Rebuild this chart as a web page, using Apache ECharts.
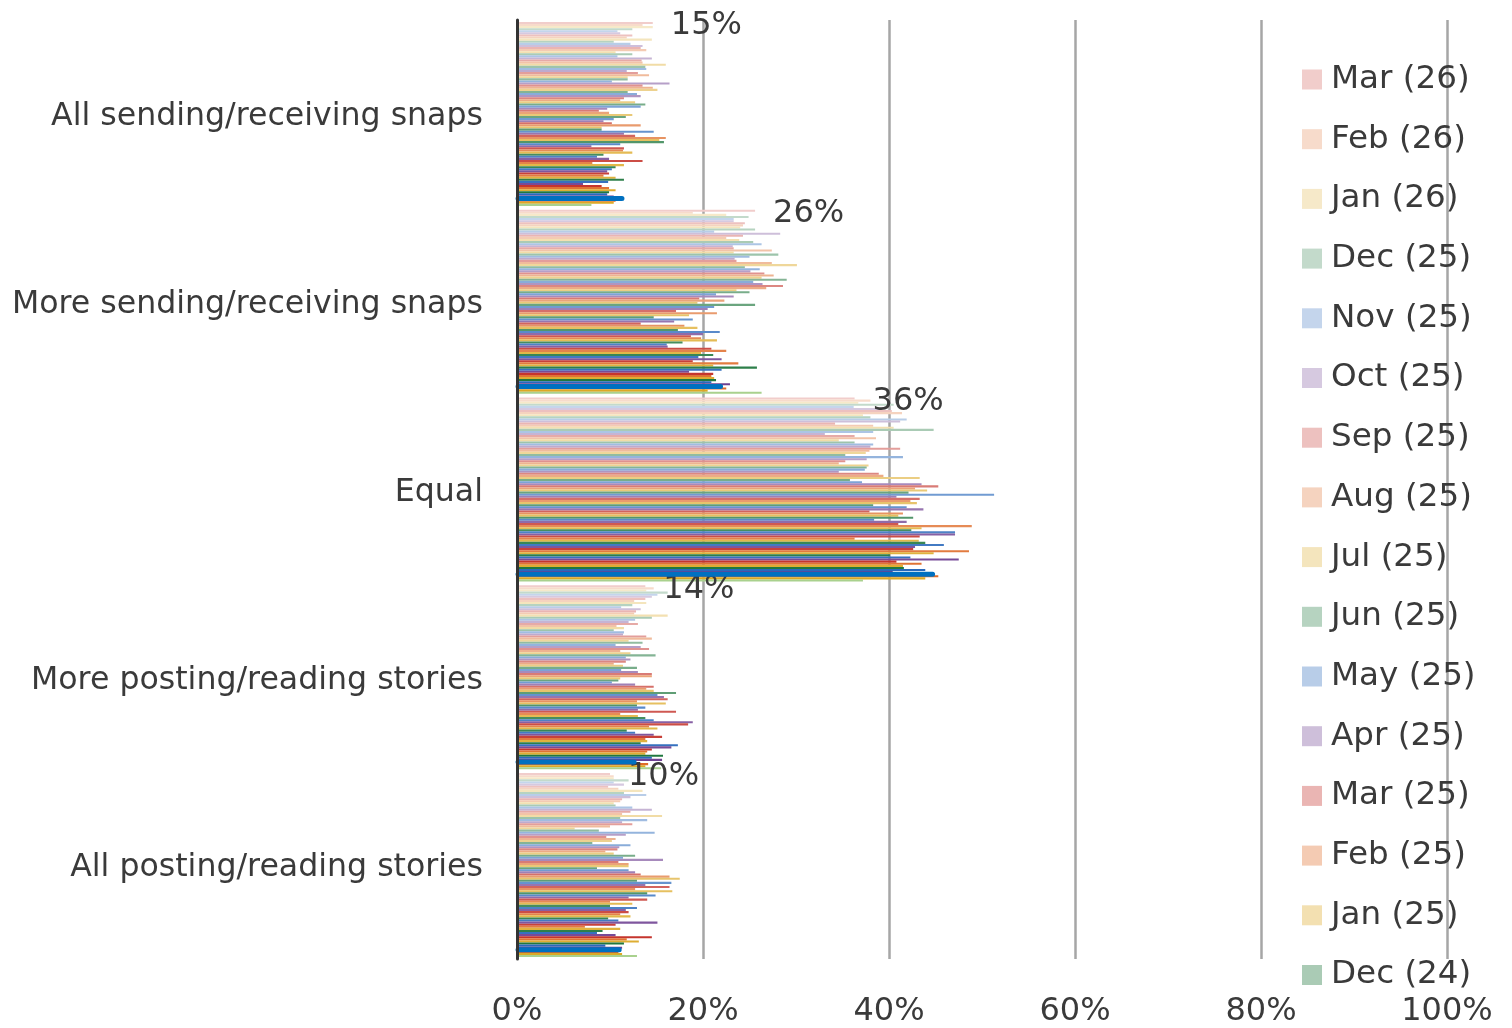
<!DOCTYPE html>
<html>
<head>
<meta charset="utf-8">
<style>
html,body{margin:0;padding:0;background:#fff}
#main{width:1512px;height:1028px}
</style>
<script src="https://cdn.jsdelivr.net/npm/echarts@6.0.0/dist/echarts.min.js"></script>
</head>
<body>
<div id="main"></div>
<script>
var categories = ['All sending/receiving snaps', 'More sending/receiving snaps', 'Equal', 'More posting/reading stories', 'All posting/reading stories'];

// one value per month, newest (Mar 26) first, oldest (Dec 18) last
var allSending = [14.6, 13.5, 14.6, 12.4, 10.8, 11.1, 12.4, 11.8, 14.5, 10.4, 12.2, 13.5, 13.3, 13.9, 10.6, 12.4, 10.8, 14.5, 13.4, 13.5, 16.0, 13.8, 13.9, 11.8, 13.0, 14.2, 11.9, 11.9, 10.2, 16.4, 13.5, 14.6, 15.1, 11.9, 12.9, 13.3, 11.5, 11.1, 12.7, 13.8, 13.3, 9.7, 8.8, 9.9,
  12.4, 11.7, 10.4, 9.3, 10.2, 13.3, 9.1, 9.1, 14.7, 11.5, 12.7, 16.0, 15.3, 15.8, 11.1, 8.0, 11.5, 11.4, 12.4, 9.3, 8.6, 9.9, 13.5, 8.1, 11.5, 10.6, 10.2, 9.7, 9.9, 9.3, 10.6, 11.5, 9.8, 7.1, 9.1, 9.9, 10.6, 9.9, 9.7, 10.4, 11.4, 10.6, 10.4, 8.0];
var moreSending = [25.6, 18.9, 22.5, 24.9, 23.3, 23.3, 24.5, 24.3, 24.0, 25.6, 21.2, 28.3, 24.3, 22.5, 23.9, 25.4, 26.3, 23.2, 23.3, 27.4, 23.3, 28.1, 25.0, 23.4, 23.6, 27.4, 30.1, 24.5, 26.1, 25.1, 26.6, 27.6, 26.3, 29.0, 25.4, 26.4, 28.6, 26.8, 23.6,
  25.0, 21.4, 23.3, 19.6, 22.3, 19.4, 25.6, 21.2, 20.5, 17.1, 21.5, 18.5, 14.7, 18.9, 16.9, 13.3, 18.0, 19.4, 17.3, 21.8, 20.0, 18.7, 19.8, 21.5, 17.8, 16.1, 16.2, 20.9, 22.5, 19.8, 21.1, 19.5, 22.0, 18.9, 23.8, 21.1, 25.8, 22.0, 18.5, 21.1, 20.9, 21.2, 21.4, 20.9, 22.9, 22.0, 22.5, 20.5, 26.3];
var equal = [36.3, 38.0, 36.7, 40.5, 36.2, 39.0, 40.3, 41.4, 37.2, 38.0, 41.9, 41.2, 34.2, 38.3, 40.5, 44.8, 38.3, 33.1, 36.3, 38.6, 34.6, 36.3, 38.3, 38.0, 41.2, 37.9, 37.5, 35.3, 41.5, 37.6, 35.3, 34.6, 37.8, 37.6, 37.4, 34.6, 38.9, 39.4, 43.3, 35.8, 37.1, 43.5, 45.3, 42.8, 44.1,
  42.1, 51.3, 40.8, 43.3, 42.3, 43.0, 38.3, 41.9, 43.7, 37.9, 41.5, 41.0, 42.6, 38.4, 41.9, 41.0, 48.9, 43.5, 42.4, 47.1, 47.1, 43.3, 36.3, 43.2, 43.9, 45.9, 42.8, 42.6, 48.6, 44.8, 40.1, 42.3, 47.5, 40.8, 43.5, 41.5, 41.6, 43.9, 40.4, 44.8, 45.3, 43.9, 37.2];
var morePosting = [13.8, 14.7, 13.9, 16.2, 15.1, 14.5, 13.8, 12.6, 13.9, 12.4, 11.2, 13.3, 12.8, 12.6, 16.2, 14.5, 12.7, 12.0, 13.0, 10.7, 11.5, 10.4, 11.5, 11.4, 13.9, 14.5, 12.0, 13.5, 10.6, 13.3, 14.2, 11.1, 12.2, 14.9, 11.7, 12.2, 11.7, 10.4, 11.4, 12.9, 11.2, 13.0, 14.5, 14.5, 11.1,
  10.9, 10.2, 12.7, 14.7, 13.9, 14.7, 17.1, 15.1, 15.8, 16.2, 12.9, 16.0, 12.9, 13.8, 13.0, 17.1, 11.1, 13.0, 13.8, 14.7, 18.9, 18.4, 14.2, 15.1, 11.8, 12.7, 14.7, 15.6, 13.8, 14.0, 13.3, 17.3, 16.6, 14.5, 14.0, 13.8, 15.7, 14.5, 15.6, 12.7, 14.1, 13.8, 15.5];
var allPosting = [10.0, 10.4, 10.4, 12.0, 10.4, 11.5, 9.8, 10.9, 13.5, 11.5, 13.9, 12.2, 11.3, 11.1, 10.4, 10.6, 12.4, 14.5, 12.2, 11.3, 15.6, 11.1, 14.0, 11.3, 12.4, 10.0, 6.2, 8.8, 14.8, 11.7, 9.6, 10.6, 10.2, 8.1, 12.2, 11.0, 10.8, 9.5, 10.4, 12.7, 11.4, 15.7,
  10.9, 12.0, 12.0, 8.6, 12.0, 12.7, 13.3, 16.4, 17.5, 12.9, 16.6, 13.8, 16.4, 12.7, 16.7, 14.0, 14.9, 12.0, 14.0, 10.0, 12.4, 10.0, 12.9, 11.7, 12.0, 11.1, 12.2, 9.8, 10.9, 15.1, 10.6, 7.3, 11.1, 9.2, 8.6, 10.6, 14.5, 11.8, 13.1, 11.5, 9.5, 11.3, 11.1, 10.9, 11.3, 12.9];

var legendShown = ['Mar (26)', 'Feb (26)', 'Jan (26)', 'Dec (25)', 'Nov (25)', 'Oct (25)', 'Sep (25)', 'Aug (25)', 'Jul (25)', 'Jun (25)', 'May (25)', 'Apr (25)', 'Mar (25)', 'Feb (25)', 'Jan (25)', 'Dec (24)'];

var MONTHS = ['Jan','Feb','Mar','Apr','May','Jun','Jul','Aug','Sep','Oct','Nov','Dec'];
var N = allSending.length;
var HIGHLIGHT = N - 4;
var FONT = 'DejaVu Sans';
var TEXT = '#3a3a3a';

// hue cycles month by month, older months get more saturated
var hues = [[192,36,28],[222,104,36],[220,168,36],[20,112,52],[32,98,184],[106,58,142]];
function barColor(k){
	if(k === N - 1) return '#a9d18e';
	if(k === HIGHLIGHT) return '#0070c0';
	var h = hues[k % 6];
	var w = 0.77 * (1 - k / (N - 1));
	return 'rgb(' + h.map(function(c){ return Math.round(c * (1 - w) + 255 * w); }).join(',') + ')';
}

var series = [];
for(var k = 0; k < N; k++){
	var m = 2026 * 12 + 2 - k;
	var name = MONTHS[m % 12] + ' (' + String(Math.floor(m / 12) % 100).padStart(2, '0') + ')';
	var s = {
		name: name,
		type: 'bar',
		barGap: '0%',
		barCategoryGap: '2%',
		data: [allSending[k], moreSending[k], equal[k], morePosting[k], allPosting[k]],
		itemStyle: {color: barColor(k)}
	};
	if(k === HIGHLIGHT){
		s.itemStyle.borderColor = '#0070c0';
		s.itemStyle.borderWidth = 5;
		s.itemStyle.borderJoin = 'round';
		s.z = 3;
	}
	if(k === 0){
		s.label = {
			show: true, position: 'right', distance: 18, offset: [0, 3],
			fontFamily: FONT, fontSize: 32, color: TEXT,
			formatter: function(p){ return Math.round(p.value) + '%'; }
		};
	}
	series.push(s);
}

var chart = echarts.init(document.getElementById('main'));
chart.setOption({
	animation: false,
	backgroundColor: '#fff',
	grid: {left: 517, right: 65, top: 20, bottom: 66},
	legend: {
		data: legendShown,
		orient: 'vertical',
		left: 1297, top: 58,
		itemWidth: 20, itemHeight: 20, itemGap: 26.7,
		icon: 'rect',
		selectedMode: false,
		textStyle: {fontFamily: FONT, fontSize: 32.6, color: TEXT, padding: [0, 0, 0, 4]}
	},
	xAxis: {
		type: 'value', min: 0, max: 100, interval: 20,
		axisLine: {show: false},
		axisTick: {show: false},
		axisLabel: {formatter: '{value}%', fontFamily: FONT, fontSize: 32, color: TEXT, margin: 37},
		splitLine: {show: true, lineStyle: {color: '#a6a6a6', width: 2.5}}
	},
	yAxis: {
		type: 'category', data: categories, inverse: true, z: 10,
		axisLine: {show: true, lineStyle: {color: '#333', width: 3}},
		axisTick: {show: false},
		axisLabel: {
			margin: 34,
			formatter: function(v){ return '{c|' + v + '}'; },
			rich: {c: {fontFamily: FONT, fontSize: 31.6, color: TEXT, padding: [6, 0, 0, 0]}}
		}
	},
	series: series
});
</script>
</body>
</html>
